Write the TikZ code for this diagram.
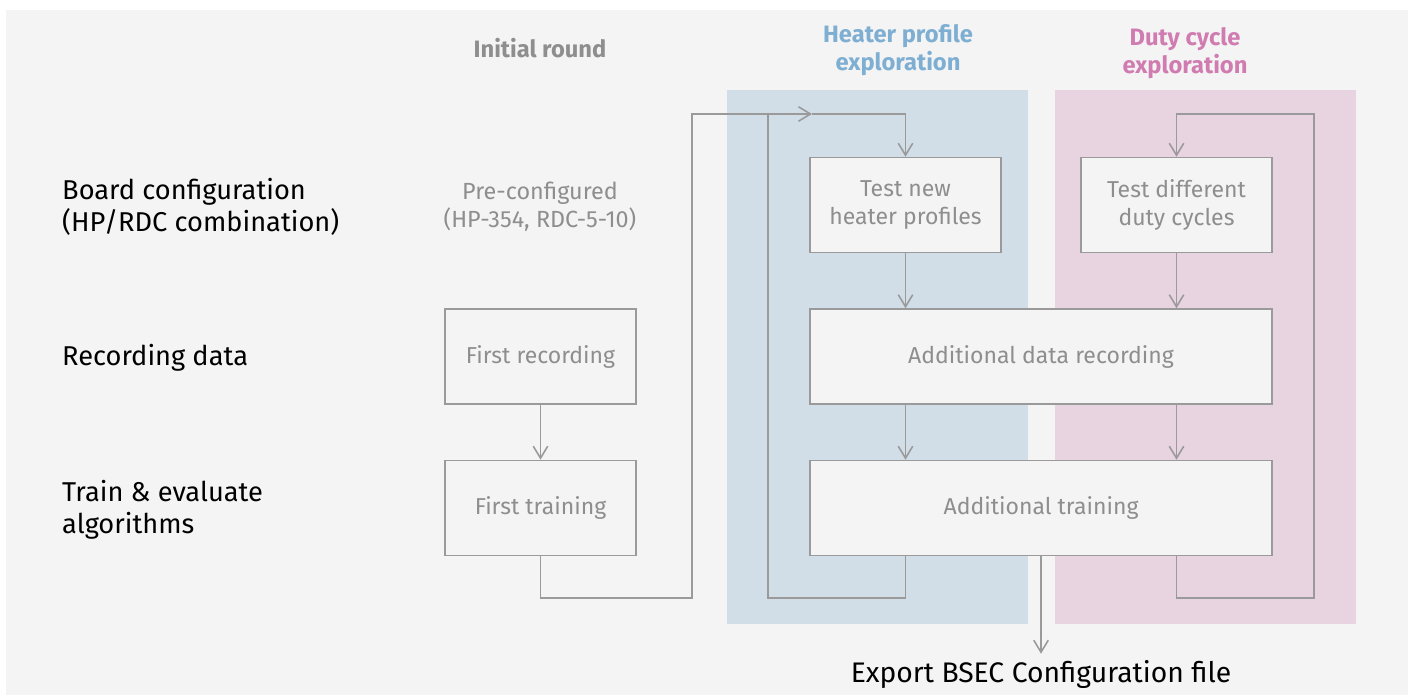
\documentclass[tikz,border=0pt]{standalone}
\usepackage{fontspec}
\setmainfont{Fira Sans}
\usetikzlibrary{arrows.meta, positioning}
\definecolor{bggray}{HTML}{F4F4F4}
\definecolor{linegray}{HTML}{9A9A9A}
\definecolor{textgray}{HTML}{8E8E8E}
\definecolor{heaterblue}{HTML}{D1DEE8}
\definecolor{dutypink}{HTML}{E8D3E0}
\definecolor{heatertitle}{HTML}{7EAFD2}
\definecolor{dutytitle}{HTML}{D07CB1}
\tikzset{
	block/.style={draw=linegray, line width=0.9pt, fill=bggray, text=textgray, align=center,
		font=\fontsize{13.1}{16}\selectfont, minimum width=3.82cm, minimum height=1.9cm},
	wideblock/.style={block, minimum width=9.24cm},
	rowlabel/.style={anchor=west, align=left, font=\fontsize{15.5}{18.5}\selectfont},
	coltitle/.style={align=center, font=\fontsize{13.5}{16}\selectfont\bfseries},
	link/.style={draw=linegray, line width=0.9pt},
	flow/.style={link, -{Straight Barb[length=2.4mm, width=2.9mm]}}
}

\begin{document}
\begin{tikzpicture}[x=0.02cm, y=-0.02cm]
		\useasboundingbox (0,0) rectangle (1408,695);
		\fill[bggray] (6,10) rectangle (1408,695);
		
		\fill[heaterblue] (727,90) rectangle (1028,624);
		\fill[dutypink] (1055,90) rectangle (1356,624);
		
		\node[coltitle, text=textgray] (initial) at (540,48) {Initial round};
		\node[coltitle, text=heatertitle] (heater) at (898,50) {Heater profile\\exploration};
		\node[coltitle, text=dutytitle] (duty) at (1185,53) {Duty cycle\\exploration};
		
		\node[rowlabel] (boardrow) at (56,207) {Board configuration\\(HP/RDC combination)};
		\node[rowlabel] (recrow) at (56,358) {Recording data};
		\node[rowlabel] (trainrow) at (56,510) {Train \& evaluate\\algorithms};
		
		\node[align=center, text=textgray, font=\fontsize{13.3}{16}\selectfont] (preconf) at (540,207) {Pre-configured\\(HP-354, RDC-5-10)};
		
		\node[block] (firstrec) at (540.5,356.5) {First recording};
		\node[block] (firsttrain) at (540.5,508) {First training};
		
		\node[block] (testheater) at (905.5,205) {Test new\\heater profiles};
		\node[block] (testduty) at (1176.5,205) {Test different\\duty cycles};
		
		\node[wideblock] (addrec) at (1041,356.5) {Additional data recording};
		\node[wideblock] (addtrain) at (1041,508) {Additional training};
		
		\node[font=\fontsize{16.1}{19}\selectfont] (export) at (1041,674) {Export BSEC Configuration file};
		
		\coordinate (jumpbottom) at (692,598);
		\coordinate (jumptop) at (692,114);
		\coordinate (midarrow) at (812,114);
		\coordinate (heaterbottom) at (768,598);
		\coordinate (heatertop) at (768,114);
		\coordinate (dutybottom) at (1314,598);
		\coordinate (dutytop) at (1314,114);
		
		% initial round
		\draw[flow] (firstrec) -- (firsttrain);
		\draw[flow] (firsttrain.south) |- (jumpbottom) -- (jumptop) -- (midarrow);
		\draw[flow] (midarrow) -| (testheater.north);
		
		% heater profile loop
		\draw[link] (addtrain.south -| testheater) |- (heaterbottom) -- (heatertop);
		\draw[flow] (testheater) -- (addrec.north -| testheater);
		\draw[flow] (addrec.south -| testheater) -- (addtrain.north -| testheater);
		
		% duty cycle loop
		\draw[flow] (addtrain.south -| testduty) |- (dutybottom) -- (dutytop) -| (testduty.north);
		\draw[flow] (testduty) -- (addrec.north -| testduty);
		\draw[flow] (addrec.south -| testduty) -- (addtrain.north -| testduty);
		
		\draw[flow] (addtrain.south) -- (export.north);
	\end{tikzpicture}
\end{document}
